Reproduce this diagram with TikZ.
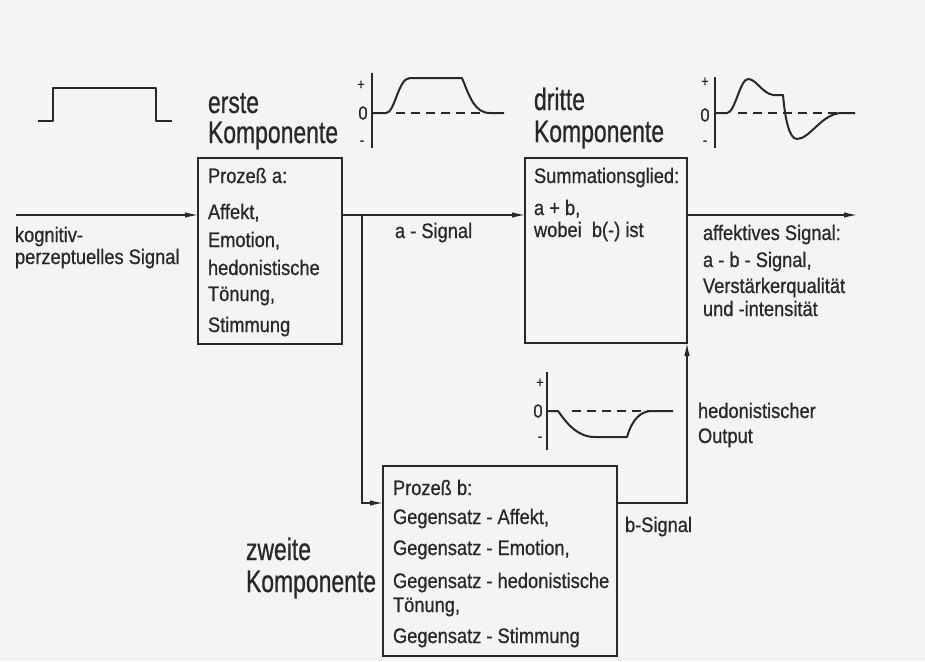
\documentclass[tikz,border=0pt]{standalone}
\usepackage{fontspec}
\setmainfont{Liberation Sans}[FakeStretch=0.87,FakeBold=0.7]
\newfontfamily\bigfont{Liberation Sans}[FakeStretch=0.74,FakeBold=0.7]
\usetikzlibrary{arrows.meta}
\definecolor{ink}{RGB}{40,40,40}
\definecolor{paper}{RGB}{244,244,244}
\begin{document}
\begin{tikzpicture}[x=1pt,y=-1pt,
  every node/.style={inner sep=0pt, outer sep=0pt, text=ink},
  lbl/.style={anchor=base west, font=\fontsize{21}{21}\selectfont},
  big/.style={anchor=base west, font=\bigfont\fontsize{31}{31}\selectfont},
  axlbl/.style={anchor=center, font=\fontsize{19}{19}\selectfont},
  smlbl/.style={anchor=center, font=\fontsize{15}{15}\selectfont},
  procbox/.style={draw=ink, line width=1.6pt, rectangle, anchor=north west},
  conn/.style={draw=ink, line width=1.3pt},
  arr/.style={conn, -{Latex[length=13pt,width=5.5pt]}},
  curve/.style={draw=ink, line width=2pt, line join=round},
  zero/.style={draw=ink, line width=1.7pt, dash pattern=on 9pt off 6pt},
  axis/.style={draw=ink, line width=1.4pt}]

\fill[paper] (0,0) rectangle (925,661);
\useasboundingbox (0,0) rectangle (925,661);

% boxes
\node[procbox, minimum width=144pt, minimum height=186pt] (boxA) at (198,158) {};
\node[procbox, minimum width=162pt, minimum height=185pt] (boxC) at (525,158) {};
\node[procbox, minimum width=234pt, minimum height=190pt] (boxB) at (383,466) {};

% headings
\node[big] (ersteA) at (208,113) {erste};
\node[big] (kompA) at (208,143) {Komponente};
\node[big] (dritteC) at (534,110) {dritte};
\node[big] (kompC) at (534,142) {Komponente};
\node[big] (zweiteB) at (246,560) {zweite};
\node[big] (kompB) at (246,592) {Komponente};

% box A text
\node[lbl] (a1) at (208,183) {Prozeß a:};
\node[lbl] (a2) at (208,219) {Affekt,};
\node[lbl] (a3) at (208,247) {Emotion,};
\node[lbl] (a4) at (208,275) {hedonistische};
\node[lbl] (a5) at (208,301) {Tönung,};
\node[lbl] (a6) at (208,332) {Stimmung};

% box C text
\node[lbl] (c1) at (534,183) {Summationsglied:};
\node[lbl] (c2) at (534,215) {a + b,};
\node[lbl] (c3) at (534,237) {wobei\ \ b(-) ist};

% box B text
\node[lbl] (b1) at (393,495) {Prozeß b:};
\node[lbl] (b2) at (393,524) {Gegensatz - Affekt,};
\node[lbl] (b3) at (393,555) {Gegensatz - Emotion,};
\node[lbl] (b4) at (393,588) {Gegensatz - hedonistische};
\node[lbl] (b5) at (393,612) {Tönung,};
\node[lbl] (b6) at (393,643) {Gegensatz - Stimmung};

% signal labels
\node[lbl] (in1) at (15,242) {kognitiv-};
\node[lbl] (in2) at (15,264) {perzeptuelles Signal};
\node[lbl] (asig) at (395,238) {a - Signal};
\node[lbl] (o1) at (703,240) {affektives Signal:};
\node[lbl] (o2) at (703,267) {a - b - Signal,};
\node[lbl] (o3) at (703,293) {Verstärkerqualität};
\node[lbl] (o4) at (703,316) {und -intensität};
\node[lbl] (bsig) at (625,532) {b-Signal};
\node[lbl] (h1) at (698,418) {hedonistischer};
\node[lbl] (h2) at (698,443) {Output};

% connectors
\coordinate (inStart) at (16,215);
\coordinate (branch) at (362,215);
\coordinate (bLevel) at (0,503);
\coordinate (outEnd) at (857,215);
\draw[arr] (inStart) -- (inStart -| boxA.west);
\draw[arr] (boxA.east |- inStart) -- (boxC.west |- inStart);
\draw[arr] (branch) |- (boxB.west |- bLevel);
\draw[arr] (boxB.east |- bLevel) -| (boxC.south east);
\draw[arr] (boxC.east |- inStart) -- (outEnd);

% square pulse (input)
\draw[curve] (38,121) -- (53,121) -- (53,88) -- (156,88) -- (156,121) -- (172,121);

% graph 1 (a-signal)
\draw[axis] (372,73) -- (372,148);
\node[smlbl] (g1p) at (361,85) {+};
\node[axlbl] (g1z) at (363,113) {0};
\node[smlbl] (g1m) at (362,143) {-};
\draw[zero] (396,113) -- (486,113);
\draw[curve] (372,113) -- (386,113) .. controls (395,113) and (398,78) .. (410,78) -- (462,78)
  .. controls (470,98) and (475,113) .. (490,113) -- (504,113);

% graph 3 (affective signal)
\draw[axis] (715,77) -- (715,148);
\node[smlbl] (g3p) at (705,82) {+};
\node[axlbl] (g3z) at (705,115) {0};
\node[smlbl] (g3m) at (705,143) {-};
\draw[zero] (738,113) -- (838,113);
\draw[curve] (715,113) -- (727,113) .. controls (735,113) and (740,79) .. (748,79)
  .. controls (756,79) and (762,93) .. (773,95) -- (783,95)
  .. controls (785,118) and (789,139) .. (797,139)
  .. controls (810,139) and (822,113) .. (842,113) -- (855,113);

% graph 2 (hedonic output)
\draw[axis] (547,372) -- (547,450);
\node[smlbl] (g2p) at (540,383) {+};
\node[axlbl] (g2z) at (538,411) {0};
\node[smlbl] (g2m) at (540,439) {-};
\draw[zero] (572,411) -- (652,411);
\draw[curve] (547,411) -- (558,411) .. controls (568,425) and (578,437) .. (595,437) -- (627,437)
  .. controls (632,420) and (640,411) .. (652,411) -- (673,411);
\end{tikzpicture}
\end{document}
